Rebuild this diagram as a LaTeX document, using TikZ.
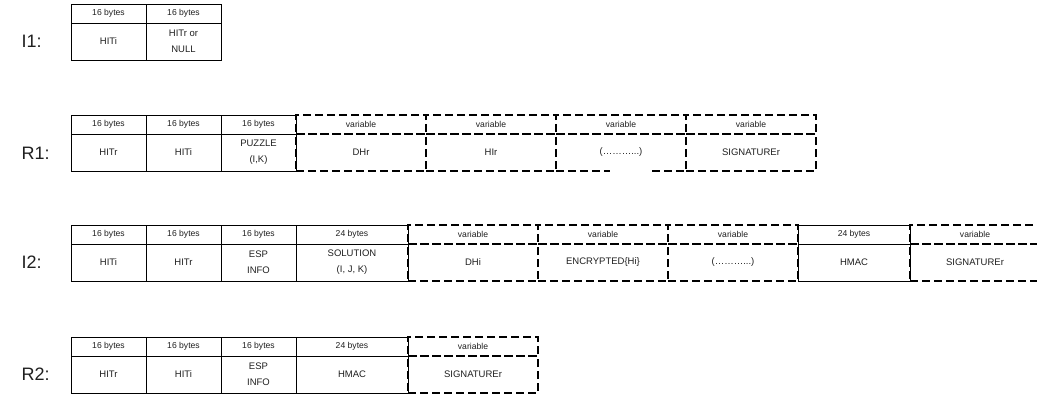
\documentclass[tikz,border=0pt]{standalone}
\usepackage{fontspec}
\setmainfont{Liberation Sans}
\usetikzlibrary{positioning}
\definecolor{celltext}{gray}{0.12}

\tikzset{
  fixed/.style={draw=black, line width=0.9pt, inner sep=0pt, outer sep=0pt,
    anchor=north west, align=center, text=celltext},
  varcell/.style={draw=black, line width=1.8pt, dash pattern=on 8pt off 4pt,
    inner sep=0pt, outer sep=0pt, anchor=north west, align=center, text=celltext},
  headrow/.style={minimum height=19pt, font=\fontsize{8.6}{9}\selectfont},
  bodyrow/.style={minimum height=37pt, font=\fontsize{9.5}{16}\selectfont},
  msglabel/.style={anchor=west, font=\fontsize{18}{20}\selectfont, text=celltext},
}

\begin{document}
\begin{tikzpicture}[x=1pt, y=-1pt]
    \useasboundingbox (0,0) rectangle (1037,396);

    % I1
    \node[msglabel] (lI1) at (18,41) {I1:};
    \node[fixed, headrow, minimum width=75pt] (i1h1) at (71,4) {16 bytes};
    \node[fixed, headrow, minimum width=75pt] (i1h2) at (146,4) {16 bytes};
    \node[fixed, bodyrow, minimum width=75pt] (i1b1) at (i1h1.south west) {HITi};
    \node[fixed, bodyrow, minimum width=75pt] (i1b2) at (i1h2.south west) {HITr or\\NULL};

    % R1
    \node[msglabel] (lR1) at (18,153) {R1:};
    \node[fixed, headrow, minimum width=75pt] (r1h1) at (71,115) {16 bytes};
    \node[fixed, headrow, minimum width=75pt] (r1h2) at (146,115) {16 bytes};
    \node[fixed, headrow, minimum width=75pt] (r1h3) at (221,115) {16 bytes};
    \node[fixed, bodyrow, minimum width=75pt] (r1b1) at (r1h1.south west) {HITr};
    \node[fixed, bodyrow, minimum width=75pt] (r1b2) at (r1h2.south west) {HITi};
    \node[fixed, bodyrow, minimum width=75pt] (r1b3) at (r1h3.south west) {PUZZLE\\(I,K)};
    \node[varcell, headrow, minimum width=130pt] (r1h4) at (296,115) {variable};
    \node[varcell, headrow, minimum width=130pt] (r1h5) at (426,115) {variable};
    \node[varcell, headrow, minimum width=130pt] (r1h6) at (556,115) {variable};
    \node[varcell, headrow, minimum width=130pt] (r1h7) at (686,115) {variable};
    \node[varcell, bodyrow, minimum width=130pt] (r1b4) at (r1h4.south west) {DHr};
    \node[varcell, bodyrow, minimum width=130pt] (r1b5) at (r1h5.south west) {HIr};
    \node[varcell, bodyrow, minimum width=130pt] (r1b6) at (r1h6.south west) {(………...)};
    \node[varcell, bodyrow, minimum width=130pt] (r1b7) at (r1h7.south west) {SIGNATUREr};
    \fill[white] (610,169) rectangle (652,176);

    % I2
    \node[msglabel] (lI2) at (18,262) {I2:};
    \node[fixed, headrow, minimum width=75pt] (i2h1) at (71,225) {16 bytes};
    \node[fixed, headrow, minimum width=75pt] (i2h2) at (146,225) {16 bytes};
    \node[fixed, headrow, minimum width=75pt] (i2h3) at (221,225) {16 bytes};
    \node[fixed, headrow, minimum width=112pt] (i2h4) at (296,225) {24 bytes};
    \node[fixed, headrow, minimum width=112pt] (i2h8) at (798,225) {24 bytes};
    \node[fixed, bodyrow, minimum width=75pt] (i2b1) at (i2h1.south west) {HITi};
    \node[fixed, bodyrow, minimum width=75pt] (i2b2) at (i2h2.south west) {HITr};
    \node[fixed, bodyrow, minimum width=75pt] (i2b3) at (i2h3.south west) {ESP\\INFO};
    \node[fixed, bodyrow, minimum width=112pt] (i2b4) at (i2h4.south west) {SOLUTION\\(I, J, K)};
    \node[fixed, bodyrow, minimum width=112pt] (i2b8) at (i2h8.south west) {HMAC};
    \node[varcell, headrow, minimum width=130pt] (i2h5) at (408,225) {variable};
    \node[varcell, headrow, minimum width=130pt] (i2h6) at (538,225) {variable};
    \node[varcell, headrow, minimum width=130pt] (i2h7) at (668,225) {variable};
    \node[varcell, headrow, minimum width=130pt] (i2h9) at (910,225) {variable};
    \node[varcell, bodyrow, minimum width=130pt] (i2b5) at (i2h5.south west) {DHi};
    \node[varcell, bodyrow, minimum width=130pt] (i2b6) at (i2h6.south west) {ENCRYPTED\{Hi\}};
    \node[varcell, bodyrow, minimum width=130pt] (i2b7) at (i2h7.south west) {(………...)};
    \node[varcell, bodyrow, minimum width=130pt] (i2b9) at (i2h9.south west) {SIGNATUREr};

    % R2
    \node[msglabel] (lR2) at (18,374) {R2:};
    \node[fixed, headrow, minimum width=75pt] (r2h1) at (71,337) {16 bytes};
    \node[fixed, headrow, minimum width=75pt] (r2h2) at (146,337) {16 bytes};
    \node[fixed, headrow, minimum width=75pt] (r2h3) at (221,337) {16 bytes};
    \node[fixed, headrow, minimum width=112pt] (r2h4) at (296,337) {24 bytes};
    \node[fixed, bodyrow, minimum width=75pt] (r2b1) at (r2h1.south west) {HITr};
    \node[fixed, bodyrow, minimum width=75pt] (r2b2) at (r2h2.south west) {HITi};
    \node[fixed, bodyrow, minimum width=75pt] (r2b3) at (r2h3.south west) {ESP\\INFO};
    \node[fixed, bodyrow, minimum width=112pt] (r2b4) at (r2h4.south west) {HMAC};
    \node[varcell, headrow, minimum width=130pt] (r2h5) at (408,337) {variable};
    \node[varcell, bodyrow, minimum width=130pt] (r2b5) at (r2h5.south west) {SIGNATUREr};
\end{tikzpicture}
\end{document}
